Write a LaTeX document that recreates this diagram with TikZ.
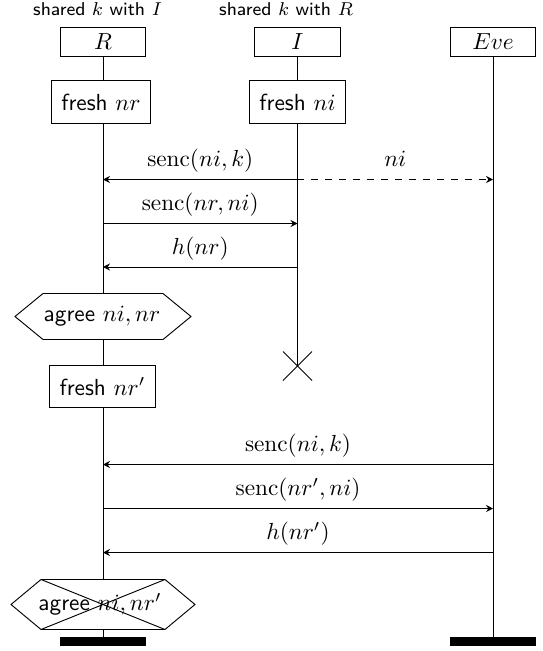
\documentclass[tikz,border=0pt]{standalone}
\usetikzlibrary{arrows.meta,backgrounds}
\begin{document}
\begin{tikzpicture}[x=0.43pt,y=-0.43pt,
  actor/.style={draw, fill=white, minimum width=36.6pt, minimum height=12.5pt, inner sep=0pt},
  freshbox/.style={draw, fill=white, font=\sffamily, minimum height=18.4pt, inner xsep=4.3pt},
  msg/.style={-{Stealth[length=3pt,width=3pt,inset=1pt]}},
  lbl/.style={above, text height=7.5pt, text depth=2pt},
  endbar/.style={fill=black, minimum width=37pt, minimum height=3.9pt, inner sep=0pt},
  hexa/.style={draw, fill=white, line join=miter},
  note/.style={font=\sffamily\footnotesize},
  ]
\useasboundingbox (0,0) rectangle (543,651);

% shared-key annotations
\node[note] (keyR) at (97.5,9.5) {shared $k$ with $I$};
\node[note] (keyI) at (286,9.5) {shared $k$ with $R$};

% participants
\node[actor] (R) at (103,41.5) {$R$};
\node[actor] (I) at (297.5,41.5) {$I$};
\node[actor] (E) at (493,41.5) {$Eve$};

% fresh nonces
\node[freshbox] (frR) at (101,102) {fresh $nr$};
\node[freshbox] (frI) at (297.5,102) {fresh $ni$};

% message rows
\coordinate (y1) at (0,179.5);
\coordinate (y2) at (0,223.5);
\coordinate (y3) at (0,267);
\coordinate (y4) at (0,464.5);
\coordinate (y5) at (0,508.5);
\coordinate (y6) at (0,552.5);

\draw[msg] (I |- y1) -- node[lbl] (l1) {$\mathrm{senc}(ni, k)$} (R |- y1);
\draw[msg, dashed] (I |- y1) -- node[lbl] (l1e) {$ni$} (E |- y1);
\draw[msg] (R |- y2) -- node[lbl] (l2) {$\mathrm{senc}(nr, ni)$} (I |- y2);
\draw[msg] (I |- y3) -- node[lbl] (l3) {$h(nr)$} (R |- y3);

% first agreement
\draw[hexa] (15,316.5) -- (43,293.5) -- (163,293.5) -- (191,316.5) -- (163,339.5) -- (43,339.5) -- cycle;
\node[font=\sffamily] (agreeA) at (102,316.5) {agree $ni, nr$};

% end of I
\coordinate (Iend) at (297.5,366);
\draw (Iend) ++(-14.5,-14.5) -- ++(29,29);
\draw (Iend) ++(14.5,-14.5) -- ++(-29,29);

% second session
\node[freshbox] (frR2) at (102.5,386.5) {fresh $nr'$};

\draw[msg] (E |- y4) -- node[lbl] (l4) {$\mathrm{senc}(ni, k)$} (R |- y4);
\draw[msg] (R |- y5) -- node[lbl] (l5) {$\mathrm{senc}(nr', ni)$} (E |- y5);
\draw[msg] (E |- y6) -- node[lbl] (l6) {$h(nr')$} (R |- y6);

% failed agreement
\draw[hexa] (11,604.5) -- (41,579.5) -- (165,579.5) -- (195,604.5) -- (165,629.5) -- (41,629.5) -- cycle;
\node[font=\sffamily] (agreeB) at (100,604.5) {agree $ni, nr'$};
\draw (41,579.5) -- (165,629.5);
\draw (165,579.5) -- (41,629.5);

% terminations
\node[endbar] (Rbar) at (103,641.5) {};
\node[endbar] (Ebar) at (493,641.5) {};

% lifelines
\begin{scope}[on background layer]
\draw (R.south) -- (Rbar.north);
\draw (I.south) -- (Iend);
\draw (E.south) -- (Ebar.north);
\end{scope}
\end{tikzpicture}
\end{document}
